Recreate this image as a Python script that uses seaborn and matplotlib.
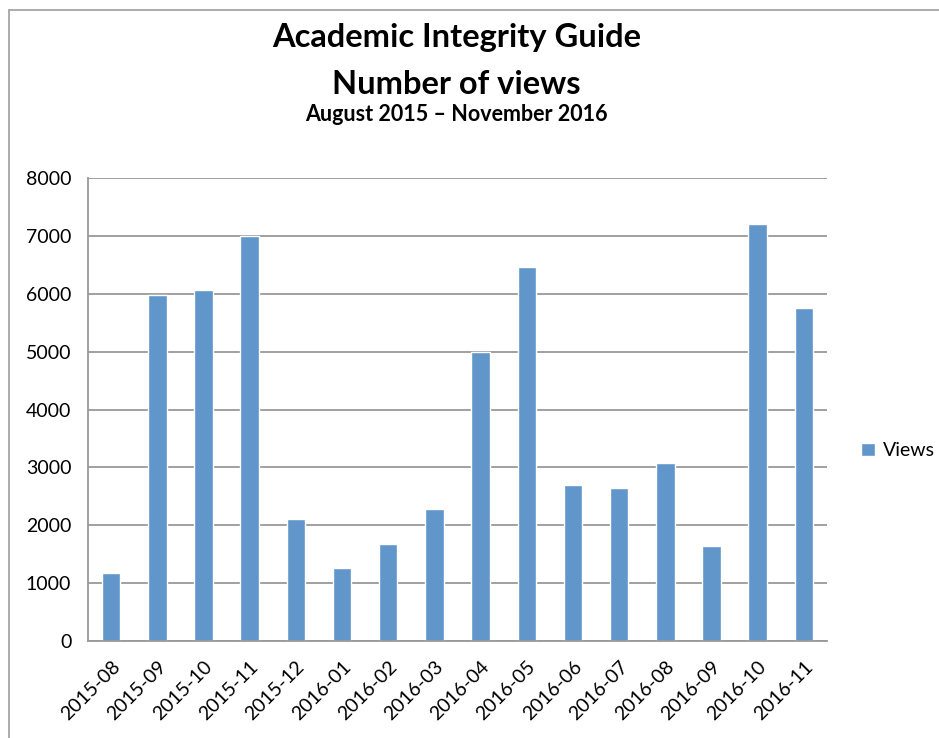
import matplotlib
matplotlib.use("Agg")
import matplotlib.pyplot as plt
from matplotlib.lines import Line2D
import seaborn as sns
import pandas as pd

meses = ["2015-08", "2015-09", "2015-10", "2015-11", "2015-12", "2016-01",
         "2016-02", "2016-03", "2016-04", "2016-05", "2016-06", "2016-07",
         "2016-08", "2016-09", "2016-10", "2016-11"]
visualizacoes = [1170, 5985, 6065, 7000, 2100, 1260, 1680, 2280,
                 5000, 6465, 2690, 2650, 3075, 1645, 7210, 5755]
serie = "Views"
y_ticks = [0, 1000, 2000, 3000, 4000, 5000, 6000, 7000, 8000]

azul = '#6096C9'
cinza = '#999999'

dados = pd.DataFrame({"mes": meses, "views": visualizacoes, "serie": serie})

sns.set_style("white")
plt.rcParams['font.family'] = ['Lato', 'DejaVu Sans']
plt.rcParams['text.color'] = 'black'
plt.rcParams['xtick.labelcolor'] = 'black'
plt.rcParams['ytick.labelcolor'] = 'black'

fig = plt.figure(figsize=(9.39, 7.38), dpi=100)
ax = fig.add_axes([0.0937, 0.1314, 0.787, 0.6274])

sns.barplot(data=dados, x="mes", y="views", hue="serie", palette=[azul],
            width=0.4, saturation=1, ax=ax, legend=True)

ax.set_ylim(0, 8000)
ax.set_xlim(-0.5, len(meses) - 0.5)
ax.set_yticks(y_ticks)
ax.set_yticklabels([str(v) for v in y_ticks], fontsize=14, color='black')
ax.set_xticks(range(len(meses)))
ax.set_xticklabels(meses, rotation=45, ha='right', rotation_mode='anchor',
                   fontsize=14, color='black')
ax.set_xticks([i - 0.5 for i in range(len(meses) + 1)], minor=True)
ax.tick_params(axis='x', which='major', length=0, pad=12)
ax.tick_params(axis='x', which='minor', length=6, width=1.3, color=cinza, direction='out')
ax.tick_params(axis='y', length=6, width=1.3, color=cinza, direction='out', pad=6)
ax.set_xlabel('')
ax.set_ylabel('')

ax.yaxis.grid(True, color=cinza, linewidth=1.3)
ax.set_axisbelow(True)
for lado in ['top', 'right']:
    ax.spines[lado].set_visible(False)
for lado in ['left', 'bottom']:
    ax.spines[lado].set_color(cinza)
    ax.spines[lado].set_linewidth(1.3)

leg = ax.legend(loc='center left', bbox_to_anchor=(0.917, 0.389),
                bbox_transform=fig.transFigure, frameon=False, fontsize=14,
                borderpad=0, borderaxespad=0,
                handlelength=0.7, handleheight=0.7, handletextpad=0.4)
for t in leg.get_texts():
    t.set_color('black')

fig.text(0.486, 0.936, 'Academic Integrity Guide', ha='center', va='baseline',
         fontsize=23.5, fontweight='bold', color='black')
fig.text(0.486, 0.873, 'Number of views', ha='center', va='baseline',
         fontsize=23.5, fontweight='bold', color='black')
fig.text(0.486, 0.836, 'August 2015 \u2013 November 2016', ha='center', va='baseline',
         fontsize=15.5, fontweight='bold', color='black')

# borda do grafico
fig.add_artist(Line2D([0.0096, 0.0096], [0.0, 0.9864], color='#a6a6a6', linewidth=1.3))
fig.add_artist(Line2D([0.0096, 1.0], [0.9864, 0.9864], color='#a6a6a6', linewidth=1.3))

plt.savefig('out.png', dpi=100)
